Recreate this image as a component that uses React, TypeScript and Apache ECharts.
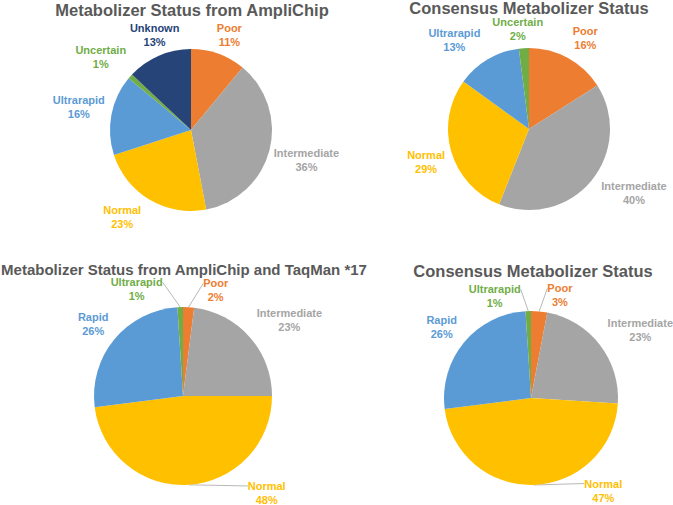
import React, { useEffect, useRef } from 'react';
import * as echarts from 'echarts';

// ---- data ----
const AMPLICHIP_CATEGORIES = ['Poor', 'Intermediate', 'Normal', 'Ultrarapid', 'Uncertain', 'Unknown'];
const AMPLICHIP_VALUES = [11, 36, 23, 16, 1, 13];

const CONSENSUS_A_CATEGORIES = ['Poor', 'Intermediate', 'Normal', 'Ultrarapid', 'Uncertain'];
const CONSENSUS_A_VALUES = [16, 40, 29, 13, 2];

const TAQMAN_CATEGORIES = ['Poor', 'Intermediate', 'Normal', 'Rapid', 'Ultrarapid'];
const TAQMAN_VALUES = [2, 23, 48, 26, 1];

const CONSENSUS_B_CATEGORIES = ['Poor', 'Intermediate', 'Normal', 'Rapid', 'Ultrarapid'];
const CONSENSUS_B_VALUES = [3, 23, 47, 26, 1];

const TITLES = [
  'Metabolizer Status from AmpliChip',
  'Consensus Metabolizer Status',
  'Metabolizer Status from AmpliChip and TaqMan *17',
  'Consensus Metabolizer Status',
];

// ---- styles / layout ----
const PALETTE = ['#ED7D31', '#A5A5A5', '#FFC000', '#5B9BD5', '#70AD47', '#264478'];
const FONT = '"Liberation Sans", Arial, sans-serif';
const TITLE_COLOR = '#595959';
const GAP = 3;

type Nudge = [number, number, boolean];
type Panel = {
  names: string[];
  values: number[];
  title: string;
  cx: number;
  cy: number;
  r: number;
  titleX: number;
  titleY: number;
  titleSize: number;
  nudges: Record<string, Nudge>;
};

const PANELS: Panel[] = [
  {
    names: AMPLICHIP_CATEGORIES, values: AMPLICHIP_VALUES, title: TITLES[0],
    cx: 191, cy: 130, r: 81, titleX: 192, titleY: 9.5, titleSize: 16.5,
    nudges: {
      Poor: [4, 0, false], Normal: [-15, -4, false], Ultrarapid: [-2, -2, false],
      Uncertain: [-6, 1, false], Unknown: [6, 3, false],
    },
  },
  {
    names: CONSENSUS_A_CATEGORIES, values: CONSENSUS_A_VALUES, title: TITLES[1],
    cx: 529, cy: 129, r: 81, titleX: 529, titleY: 8, titleSize: 16.5,
    nudges: {
      Poor: [7, -1, false], Intermediate: [14, -11, false], Normal: [-1, 3, false],
      Ultrarapid: [-19, 5, false], Uncertain: [-5, -1, false],
    },
  },
  {
    names: TAQMAN_CATEGORIES, values: TAQMAN_VALUES, title: TITLES[2],
    cx: 183, cy: 396, r: 89, titleX: 184, titleY: 269, titleSize: 15,
    nudges: {
      Poor: [26, 1, true], Intermediate: [12, 7, false], Normal: [77, -10, true],
      Rapid: [-3, 0, false], Ultrarapid: [-43, 0, true],
    },
  },
  {
    names: CONSENSUS_B_CATEGORIES, values: CONSENSUS_B_VALUES, title: TITLES[3],
    cx: 531, cy: 398, r: 87, titleX: 533, titleY: 271, titleSize: 16.5,
    nudges: {
      Poor: [19, 2, true], Intermediate: [11, 8, false], Normal: [69, -12, true],
      Rapid: [-4, 0, false], Ultrarapid: [-33, 3, true],
    },
  },
];

function makeLabelLayout(p: Panel) {
  const total = p.values.reduce((a, b) => a + b, 0);
  const mids: number[] = [];
  let acc = 0;
  p.values.forEach((v) => {
    mids.push(acc + v / 2);
    acc += v;
  });
  return (params: any) => {
    const i = params.dataIndex;
    const theta = (mids[i] / total) * Math.PI * 2;
    const dx = Math.sin(theta);
    const dy = -Math.cos(theta);
    const w = params.labelRect.width;
    const h = params.labelRect.height;
    const s = (Math.abs(dx) * w) / 2 + (Math.abs(dy) * h) / 2;
    const p0 = [p.cx + dx * p.r, p.cy + dy * p.r];
    const n: Nudge = p.nudges[p.names[i]] || [0, 0, false];
    const x = p.cx + dx * (p.r + GAP + s) + n[0];
    const y = p.cy + dy * (p.r + GAP + s) + n[1];
    let pts: number[][] = [p0, p0.slice(), p0.slice()];
    if (n[2]) {
      const ax = p0[0] < x ? x - w / 2 : x + w / 2;
      const ay = y - h / 4;
      pts = [p0, [ax, ay], [ax, ay]];
    }
    return { x, y, align: 'center', verticalAlign: 'middle', labelLinePoints: pts };
  };
}

function buildOption() {
  return {
    animation: false,
    backgroundColor: '#ffffff',
    graphic: PANELS.map((p) => ({
      type: 'text',
      x: p.titleX,
      y: p.titleY,
      silent: true,
      style: {
        text: p.title,
        fontFamily: FONT,
        fontWeight: 'bold',
        fontSize: p.titleSize,
        lineHeight: 13,
        fill: TITLE_COLOR,
        align: 'center',
        verticalAlign: 'middle',
      },
    })),
    series: PANELS.map((p) => ({
      type: 'pie',
      center: [p.cx, p.cy],
      radius: p.r,
      startAngle: 90,
      clockwise: true,
      silent: true,
      avoidLabelOverlap: false,
      emphasis: { disabled: true },
      label: {
        show: true,
        position: 'outside',
        formatter: '{b}\n{c}%',
        fontFamily: FONT,
        fontWeight: 'bold',
        fontSize: 11,
        lineHeight: 14,
      },
      labelLine: {
        show: true,
        length: 5,
        length2: 0,
        lineStyle: { color: '#A6A6A6', width: 0.8 },
      },
      labelLayout: makeLabelLayout(p),
      data: p.names.map((name, i) => ({
        name,
        value: p.values[i],
        itemStyle: { color: PALETTE[i] },
        label: { color: PALETTE[i] },
      })),
    })),
  };
}

export default function App() {
  const ref = useRef<HTMLDivElement>(null);
  useEffect(() => {
    if (!ref.current) return;
    const chart = echarts.init(ref.current, undefined, { renderer: 'svg' });
    chart.setOption(buildOption() as any);
    return () => chart.dispose();
  }, []);
  return (
    <div
      ref={ref}
      style={{ position: 'absolute', left: 0, top: 0, width: 673, height: 505, background: '#fff' }}
    />
  );
}
